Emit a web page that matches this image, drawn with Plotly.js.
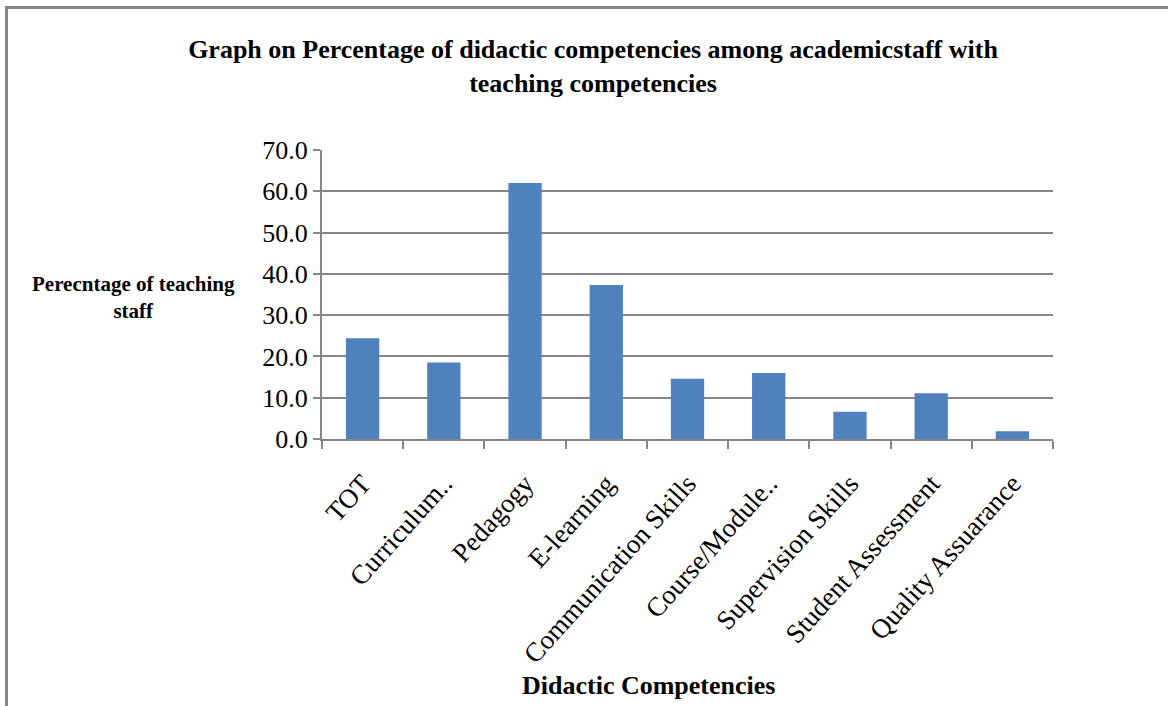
<!DOCTYPE html>
<html>
<head>
<meta charset="utf-8">
<script src="https://cdn.plot.ly/plotly-3.0.1.min.js"></script>
<style>
html,body{margin:0;padding:0;background:#fff;}
#wrap{position:relative;width:1168px;height:706px;overflow:hidden;}
#chart{position:absolute;left:0;top:0;width:1168px;height:706px;}
#frame{position:absolute;left:5px;top:6px;width:1200px;height:800px;border-top:3px solid #868686;border-left:3px solid #868686;pointer-events:none;}
</style>
</head>
<body>
<div id="wrap">
<div id="chart"></div>
<div id="frame"></div>
</div>
<script>
var categories = ["TOT", "Curriculum..", "Pedagogy", "E-learning", "Communication Skills", "Course/Module..", "Supervision Skills", "Student Assessment", "Quality Assuarance"];
var percentages = [24.4, 18.5, 62.0, 37.3, 14.6, 16.0, 6.6, 11.1, 1.9];
var yTickValues = [0, 10, 20, 30, 40, 50, 60, 70];

var serif = "Liberation Serif, Times New Roman, serif";
var gray = "#868686";

var trace = {
  type: "bar",
  x: categories,
  y: percentages,
  width: 0.41,
  marker: {color: "#4F81BD", line: {width: 0}},
  hoverinfo: "x+y"
};

var layout = {
  width: 1168,
  height: 706,
  margin: {l: 322, r: 115, t: 150, b: 267, pad: 0},
  paper_bgcolor: "#fff",
  plot_bgcolor: "#fff",
  showlegend: false,
  font: {family: serif, color: "#000"},
  title: {
    text: "Graph on Percentage of didactic competencies among academicstaff with<br>teaching competencies",
    x: 593 / 1168, xanchor: "center", xref: "container",
    y: 1 - 58 / 706, yanchor: "top", yref: "container",
    font: {family: serif, size: 26, weight: "bold", color: "#000"}
  },
  xaxis: {
    type: "category",
    showline: true, linecolor: gray, linewidth: 2,
    ticks: "outside", tickson: "boundaries", ticklen: 8, tickcolor: gray, tickwidth: 2,
    tickangle: -48,
    ticklabelstandoff: 16,
    tickfont: {family: serif, size: 27, color: "#000"},
    showgrid: false,
    zeroline: false,
    fixedrange: true
  },
  yaxis: {
    range: [0, 70],
    tickvals: yTickValues,
    tickformat: ".1f",
    showline: true, linecolor: gray, linewidth: 2,
    ticks: "outside", ticklen: 7, tickcolor: gray, tickwidth: 2,
    tickfont: {family: serif, size: 26, color: "#000"},
    showgrid: true, gridcolor: gray, gridwidth: 2,
    zeroline: false,
    fixedrange: true
  },
  annotations: [
    {
      text: "Perecntage of teaching<br>staff",
      xref: "paper", yref: "paper",
      x: (133 - 322) / 731, y: (439 - 297) / 289,
      xanchor: "center", yanchor: "middle",
      showarrow: false, align: "center",
      font: {family: serif, size: 21, weight: "bold", color: "#000"}
    },
    {
      text: "Didactic Competencies",
      xref: "paper", yref: "paper",
      x: (648 - 322) / 731, y: (439 - 685) / 289,
      xanchor: "center", yanchor: "middle",
      showarrow: false,
      font: {family: serif, size: 26, weight: "bold", color: "#000"}
    }
  ]
};

Plotly.newPlot("chart", [trace], layout, {displayModeBar: false, staticPlot: true});
</script>
</body>
</html>
